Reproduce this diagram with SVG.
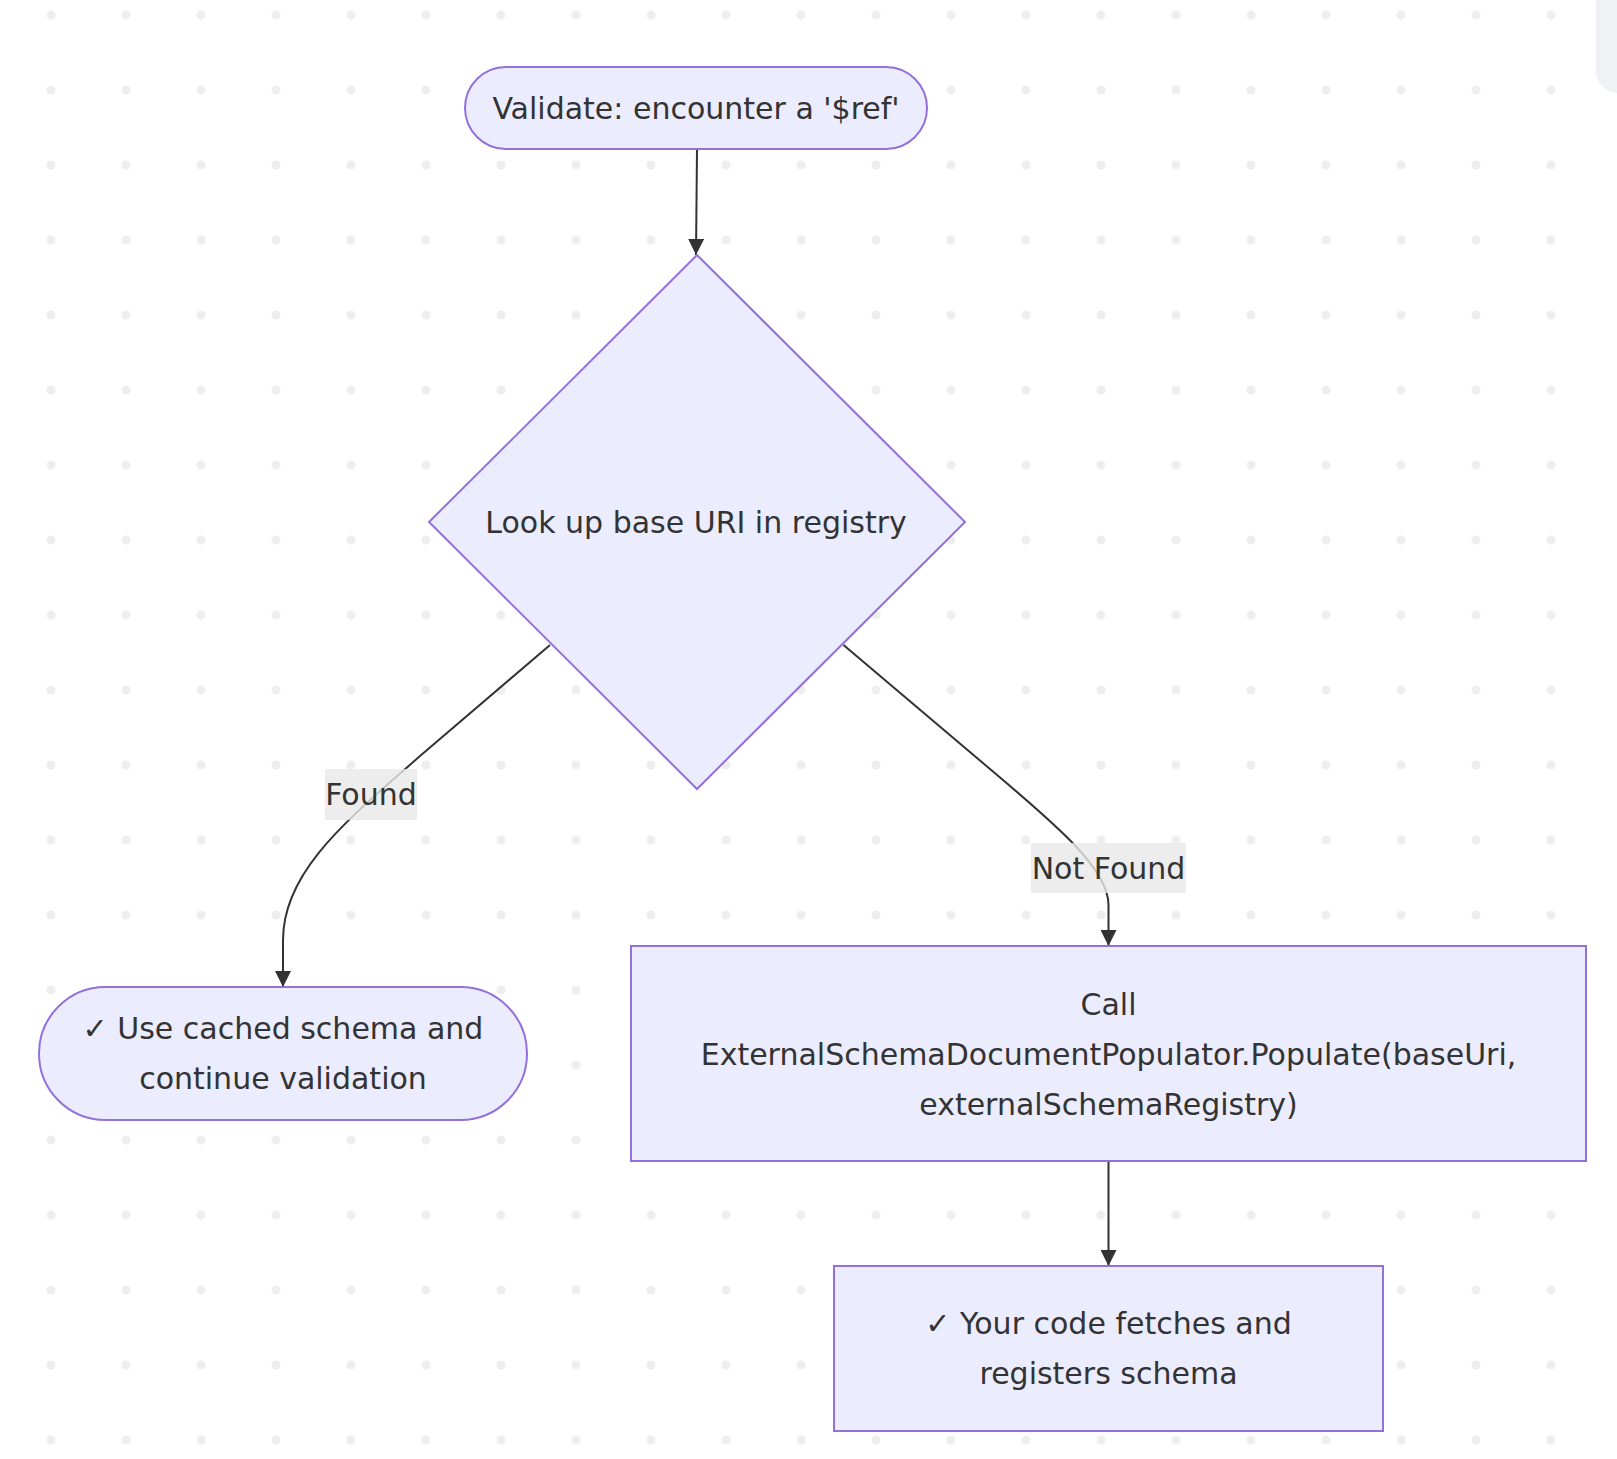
<svg xmlns="http://www.w3.org/2000/svg" width="1617" height="1459" viewBox="0 0 1617 1459">
<defs>
<pattern id="dots" x="51" y="15" width="75" height="75" patternUnits="userSpaceOnUse">
<circle cx="0" cy="0" r="4.5" fill="#eeeeee"/>
<circle cx="75" cy="0" r="4.5" fill="#eeeeee"/>
<circle cx="0" cy="75" r="4.5" fill="#eeeeee"/>
<circle cx="75" cy="75" r="4.5" fill="#eeeeee"/>
</pattern>
<marker id="arrow" viewBox="0 0 10 10" refX="10" refY="5" markerWidth="16" markerHeight="16" markerUnits="userSpaceOnUse" orient="auto">
<path d="M0,0 L10,5 L0,10 z" fill="#333333"/>
</marker>
</defs>
<style>
.node{fill:#ECECFF;stroke:#9370DB;stroke-width:2}
.edge{fill:none;stroke:#333333;stroke-width:2;marker-end:url(#arrow)}
.t{font-family:"DejaVu Sans","Liberation Sans",sans-serif;font-size:30px;fill:#333333;text-anchor:middle}
.lbl{fill:rgba(232,232,232,0.8)}
</style>
<rect x="0" y="0" width="1617" height="1459" fill="#ffffff"/>
<rect x="46" y="10" width="1510" height="1435" fill="url(#dots)"/>
<rect x="1596" y="-40" width="60" height="133" rx="22" fill="#f0f1f5"/>

<g id="connectors">
<path class="edge" d="M697,150 L696,255"/>
<path class="edge" d="M550,645 L420,756 C350,818 283,870 283,940 L283,987"/>
<path class="edge" d="M843.5,645 L990,769 C1060,828 1108.5,870 1108.5,905 L1108.5,946"/>
<path class="edge" d="M1108.5,1161 L1108.5,1266"/>
</g>

<g id="label-found">
<rect class="lbl" x="325" y="769" width="92" height="51"/>
<text class="t" x="371" y="805">Found</text>
</g>
<g id="label-notfound">
<rect class="lbl" x="1031" y="843" width="155" height="50"/>
<text class="t" x="1108.5" y="879">Not Found</text>
</g>

<g id="start">
<rect class="node" x="465" y="67" width="462" height="82" rx="41" ry="41"/>
<text class="t" x="696" y="119">Validate: encounter a '$ref'</text>
</g>

<g id="lookup">
<polygon class="node" points="697,255 965,522 697,789 429,522"/>
<text class="t" x="696" y="533">Look up base URI in registry</text>
</g>

<g id="cached">
<rect class="node" x="39" y="987" width="488" height="133" rx="66.5" ry="66.5"/>
<text class="t" x="283" y="1039">✓ Use cached schema and</text>
<text class="t" x="283" y="1089">continue validation</text>
</g>

<g id="populate">
<rect class="node" x="631" y="946" width="955" height="215"/>
<text class="t" x="1108.5" y="1015">Call</text>
<text class="t" x="1108.5" y="1065">ExternalSchemaDocumentPopulator.Populate(baseUri,</text>
<text class="t" x="1108.5" y="1115">externalSchemaRegistry)</text>
</g>

<g id="register">
<rect class="node" x="834" y="1266" width="549" height="165"/>
<text class="t" x="1108.5" y="1334">✓ Your code fetches and</text>
<text class="t" x="1108.5" y="1384">registers schema</text>
</g>
</svg>
